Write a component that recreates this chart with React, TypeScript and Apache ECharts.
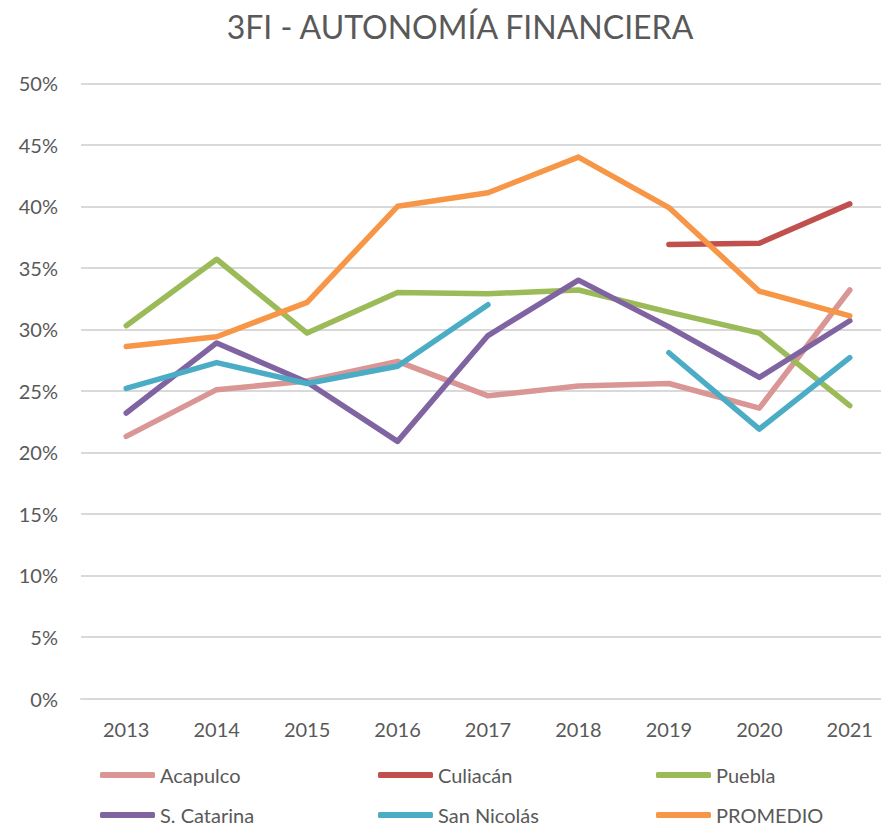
import React, { useEffect, useRef } from "react";
import * as echarts from "echarts";

const years = ["2013", "2014", "2015", "2016", "2017", "2018", "2019", "2020", "2021"];
const acapulco = [21.3, 25.1, 25.8, 27.4, 24.6, 25.4, 25.6, 23.6, 33.2];
const culiacan = [null, null, null, null, null, null, 36.9, 37.0, 40.2];
const puebla = [30.3, 35.7, 29.7, 33.0, 32.9, 33.2, 31.4, 29.7, 23.8];
const sCatarina = [23.2, 28.9, 25.7, 20.9, 29.5, 34.0, 30.2, 26.1, 30.7];
const sanNicolas = [25.2, 27.3, 25.6, 27.0, 32.0, null, 28.1, 21.9, 27.7];
const promedio = [28.6, 29.4, 32.2, 40.0, 41.1, 44.0, 39.9, 33.1, 31.1];

const seriesDefs = [
  { name: "Acapulco", data: acapulco, color: "#D99694" },
  { name: "Culiacán", data: culiacan, color: "#C0504D" },
  { name: "Puebla", data: puebla, color: "#9BBB59" },
  { name: "S. Catarina", data: sCatarina, color: "#8064A2" },
  { name: "San Nicolás", data: sanNicolas, color: "#4BACC6" },
  { name: "PROMEDIO", data: promedio, color: "#F79646" },
];

const FONT = "Lato, 'Open Sans', sans-serif";

export default function App() {
  const ref = useRef<HTMLDivElement>(null);
  useEffect(() => {
    if (!ref.current) return;
    const chart = echarts.init(ref.current, null, { renderer: "svg" });
    chart.setOption({
      animation: false,
      backgroundColor: "#ffffff",
      title: {
        text: "3FI - AUTONOMÍA FINANCIERA",
        left: 460,
        textAlign: "center",
        top: 10,
        padding: 0,
        textStyle: { fontFamily: FONT, fontSize: 32, fontWeight: "normal", color: "#595959" },
      },
      grid: { left: 81, top: 83.3, width: 814, height: 615.2, containLabel: false },
      xAxis: {
        type: "category",
        data: years,
        boundaryGap: true,
        axisLine: { show: true, lineStyle: { color: "#D9D9D9", width: 2 } },
        axisTick: { show: false },
        axisLabel: { fontFamily: FONT, fontSize: 20, color: "#595959", margin: 20 },
      },
      yAxis: {
        type: "value",
        min: 0,
        max: 50,
        interval: 5,
        axisLine: { show: false },
        axisTick: { show: false },
        splitLine: { lineStyle: { color: "#D9D9D9", width: 2 } },
        axisLabel: { fontFamily: FONT, fontSize: 20, color: "#595959", margin: 23, formatter: "{value}%" },
      },
      legend: {
        left: 100,
        top: 765,
        width: 850,
        padding: 0,
        itemWidth: 55,
        itemHeight: 6,
        itemGap: 20,
        icon: "roundRect",
        textStyle: { fontFamily: FONT, fontSize: 20, color: "#595959", width: 198, lineHeight: 20 },
        data: seriesDefs.map((s) => ({ name: s.name, itemStyle: { color: s.color } })),
      },
      series: seriesDefs.map((s) => ({
        name: s.name,
        type: "line",
        data: s.data,
        showSymbol: false,
        symbol: "none",
        connectNulls: false,
        color: s.color,
        lineStyle: { color: s.color, width: 5.5, cap: "round", join: "round" },
      })),
    });
    return () => chart.dispose();
  }, []);
  return (
    <div style={{ width: 881, height: 828, position: "absolute", left: 0, top: 0, overflow: "hidden" }}>
      <div ref={ref} style={{ width: 900, height: 828 }} />
    </div>
  );
}
